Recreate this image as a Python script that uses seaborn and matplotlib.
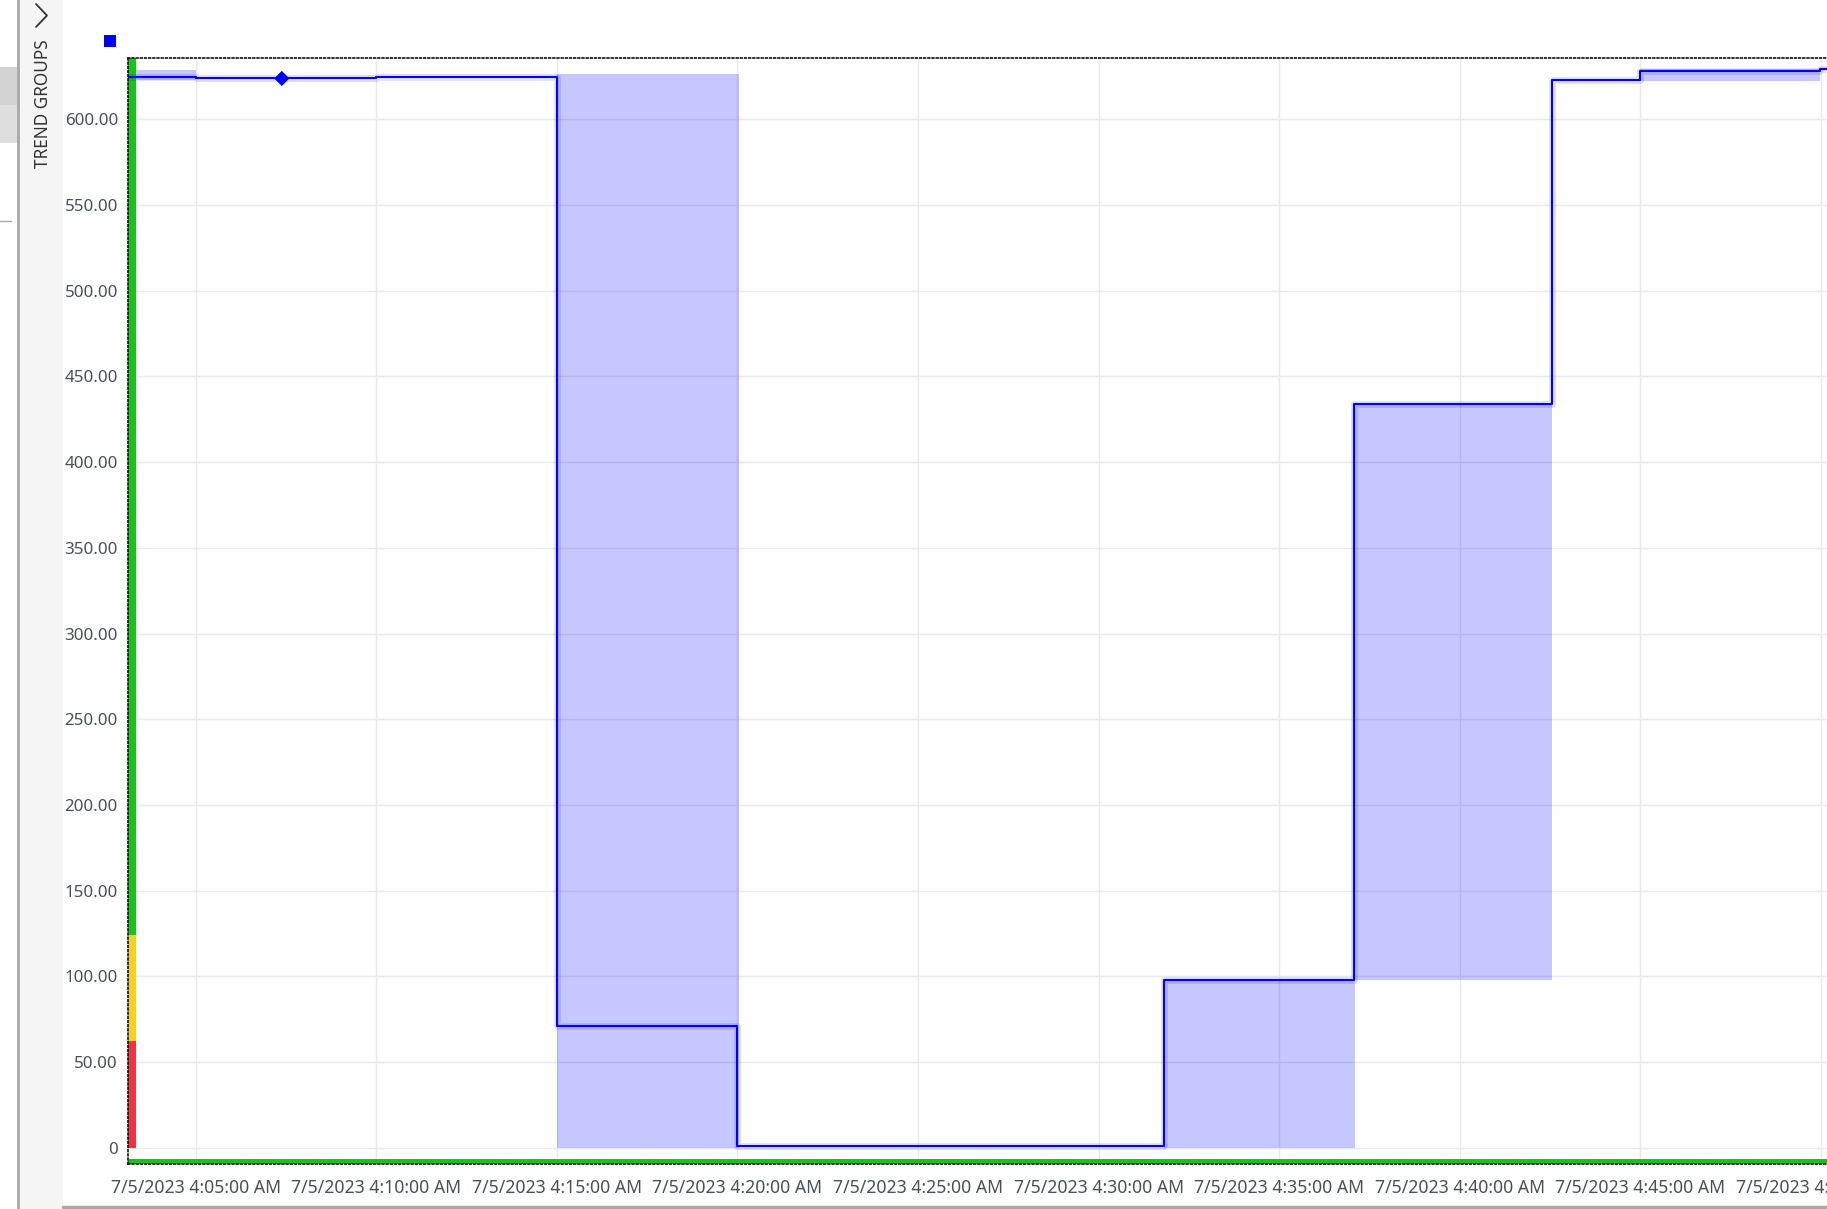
import matplotlib.pyplot as plt
import matplotlib.dates as mdates
import pandas as pd
import seaborn as sns
from matplotlib.lines import Line2D
from matplotlib.patches import Rectangle

# step trend (time, value)
step_times = ["04:03:07", "04:05:00", "04:10:00", "04:15:00", "04:20:00",
              "04:31:48", "04:37:04", "04:42:33", "04:45:00", "04:49:58", "04:50:10"]
step_values = [624.8, 623.9, 624.5, 71.0, 1.0, 97.6, 433.9, 623.0, 628.2, 629.4, 629.4]

# min/max envelope bands
band_starts = ["04:03:07", "04:15:00", "04:31:48", "04:37:06", "04:45:00"]
band_ends = ["04:05:00", "04:20:02", "04:37:06", "04:42:33", "04:49:58"]
band_lows = [623.0, 0.0, 0.0, 97.6, 622.4]
band_highs = [628.8, 626.4, 97.6, 433.9, 629.6]

marker_time = "04:07:23"
marker_value = 623.9

# limit bar on the value axis
limit_lows = [0, 62, 124]
limit_highs = [62, 124, 636]
limit_colors = ["#f03243", "#f5d123", "#16c316"]

y_ticks = [0, 50, 100, 150, 200, 250, 300, 350, 400, 450, 500, 550, 600]
y_tick_labels = ["0", "50.00", "100.00", "150.00", "200.00", "250.00", "300.00",
                 "350.00", "400.00", "450.00", "500.00", "550.00", "600.00"]
x_tick_times = ["04:05", "04:10", "04:15", "04:20", "04:25",
                "04:30", "04:35", "04:40", "04:45", "04:50"]
x_tick_labels = ["7/5/2023 4:05:00 AM", "7/5/2023 4:10:00 AM", "7/5/2023 4:15:00 AM",
                 "7/5/2023 4:20:00 AM", "7/5/2023 4:25:00 AM", "7/5/2023 4:30:00 AM",
                 "7/5/2023 4:35:00 AM", "7/5/2023 4:40:00 AM", "7/5/2023 4:45:00 AM",
                 "7/5/2023 4:50:00 AM"]


def ts(t):
    return pd.Timestamp("2023-07-05 " + t)


sns.set_style("white")
plt.rcParams["font.family"] = ["Noto Sans", "DejaVu Sans"]

W, H = 1827, 1209
fig = plt.figure(figsize=(W / 100, H / 100), dpi=100)
fig.patch.set_facecolor("white")


def fx(px):
    return px / W


def fy(py):
    return 1 - py / H


# side panel chrome
fig.add_artist(Rectangle((fx(18), 0), fx(45), 1, transform=fig.transFigure,
                         facecolor="#f5f5f5", edgecolor="none", zorder=0))
fig.add_artist(Rectangle((0, fy(105)), fx(17), fy(67) - fy(105), transform=fig.transFigure,
                         facecolor="#d2d2d2", edgecolor="none", zorder=0))
fig.add_artist(Rectangle((0, fy(143)), fx(17), fy(105) - fy(143), transform=fig.transFigure,
                         facecolor="#dedede", edgecolor="none", zorder=0))
fig.add_artist(Line2D([fx(17.5), fx(17.5)], [0, 1], color="#a8a8a8", lw=2))
fig.add_artist(Line2D([0, fx(11)], [fy(221), fy(221)], color="#a8a8a8", lw=1))
fig.add_artist(Line2D([fx(63), 1], [fy(1207), fy(1207)], color="#a8a8a8", lw=2.5))
fig.add_artist(Line2D([fx(36), fx(47), fx(36)], [fy(4), fy(15.5), fy(27)],
                      color="#333333", lw=1.3))
fig.text(fx(43), fy(104), "TREND GROUPS", rotation=90, ha="center", va="center",
         fontsize=12.4, color="#333333")
fig.add_artist(Rectangle((fx(104), fy(47)), fx(12), fy(35) - fy(47),
                         transform=fig.transFigure, facecolor="#0000ff", edgecolor="none"))

ax = fig.add_axes([fx(127.7), fy(1164), 1 - fx(127.7), fy(57.7) - fy(1164)])
ax.set_axisbelow(True)

df = pd.DataFrame({"time": [ts(t) for t in step_times], "value": step_values})

# envelope bands
for s, e, lo, hi in zip(band_starts, band_ends, band_lows, band_highs):
    ax.fill_between([ts(s), ts(e)], [lo, lo], [hi, hi], color="#0000ff",
                    alpha=0.22, lw=0, zorder=1)

# halo + line
sns.lineplot(data=df, x="time", y="value", drawstyle="steps-post", color="#0000ff",
             lw=5, alpha=0.12, ax=ax, zorder=2)
sns.lineplot(data=df, x="time", y="value", drawstyle="steps-post", color="#0000ff",
             lw=1.5, ax=ax, zorder=3)
sns.scatterplot(x=[ts(marker_time)], y=[marker_value], marker="D", s=60,
                color="#0000ff", edgecolor="none", ax=ax, zorder=4)

ax.set_xlim(ts("04:03:07"), ts("04:50:10"))
ax.set_ylim(-9.5, 636)

# limit bar and bottom strip
for lo, hi, c in zip(limit_lows, limit_highs, limit_colors):
    ax.axhspan(lo, hi, xmin=0, xmax=8 / 1699, color=c, lw=0, zorder=1.5)
ax.axhspan(-9.5, -6.3, color="#16c316", lw=0, zorder=1.5)

ax.set_yticks(y_ticks)
ax.set_yticklabels(y_tick_labels)
ax.set_xticks([mdates.date2num(ts(t)) for t in x_tick_times])
ax.set_xticklabels(x_tick_labels)
ax.tick_params(axis="both", which="major", labelcolor="#4a4f5c",
               color="#333333", length=4, width=1, direction="out")
ax.tick_params(axis="y", pad=3, labelsize=12.2)
ax.tick_params(axis="x", pad=7, labelsize=12.7)
ax.grid(True, color="#e6e9ef", lw=1)
ax.set_xlabel("")
ax.set_ylabel("")

for side in ["left", "top", "bottom"]:
    ax.spines[side].set_visible(True)
    ax.spines[side].set_linestyle((0, (1, 1.5)))
    ax.spines[side].set_color("#111111")
    ax.spines[side].set_linewidth(1.2)
ax.spines["right"].set_visible(False)

fig.savefig("out.png", dpi=100)
